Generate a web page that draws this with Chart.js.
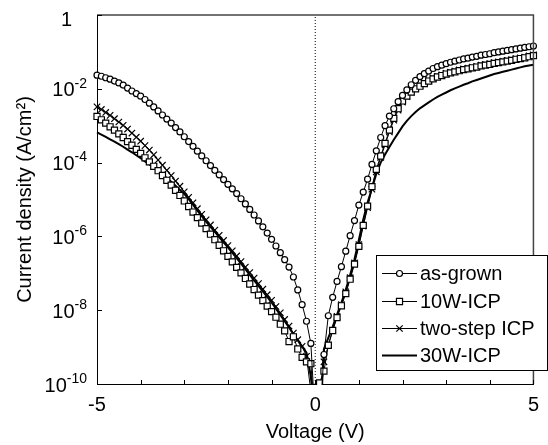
<!DOCTYPE html>
<html>
<head>
<meta charset="utf-8">
<script src="https://cdn.jsdelivr.net/npm/chart.js@4.4.1/dist/chart.umd.min.js"></script>
<style>
  html, body { margin: 0; padding: 0; background: #fff; }
  #wrap { width: 548px; height: 445px; }
</style>
</head>
<body>
<div id="wrap"><canvas id="iv"></canvas></div>
<script>
// bias sweep, V
var voltage = [-5, -4.9, -4.8, -4.7, -4.6, -4.5, -4.4, -4.3, -4.2, -4.1,
  -4, -3.9, -3.8, -3.7, -3.6, -3.5, -3.4, -3.3, -3.2, -3.1,
  -3, -2.9, -2.8, -2.7, -2.6, -2.5, -2.4, -2.3, -2.2, -2.1,
  -2, -1.9, -1.8, -1.7, -1.6, -1.5, -1.4, -1.3, -1.2, -1.1,
  -1, -0.9, -0.8, -0.7, -0.6, -0.5, -0.4, -0.3, -0.2, -0.1,
  0,
  0.1, 0.2, 0.3, 0.4, 0.5, 0.6, 0.7, 0.8, 0.9, 1,
  1.1, 1.2, 1.3, 1.4, 1.5, 1.6, 1.7, 1.8, 1.9, 2,
  2.1, 2.2, 2.3, 2.4, 2.5, 2.6, 2.7, 2.8, 2.9, 3,
  3.1, 3.2, 3.3, 3.4, 3.5, 3.6, 3.7, 3.8, 3.9, 4,
  4.1, 4.2, 4.3, 4.4, 4.5, 4.6, 4.7, 4.8, 4.9, 5];

// log10 of current density (A/cm2), one value per voltage step
// (-11 = below the measurable range near zero bias)
var asGrownLog = [-1.63, -1.66, -1.70, -1.74, -1.79, -1.84, -1.90, -1.98, -2.06, -2.13,
  -2.20, -2.29, -2.39, -2.49, -2.60, -2.71, -2.82, -2.93, -3.05, -3.17,
  -3.30, -3.43, -3.56, -3.69, -3.82, -3.95, -4.08, -4.21, -4.33, -4.46,
  -4.59, -4.71, -4.84, -4.98, -5.12, -5.27, -5.42, -5.58, -5.74, -5.91,
  -6.08, -6.26, -6.44, -6.63, -6.83, -7.10, -7.45, -7.85, -8.30, -8.90,
  -11,
  -11, -9.20, -8.15, -7.65, -7.22, -6.82, -6.40, -5.98, -5.57, -5.15,
  -4.80, -4.45, -4.05, -3.68, -3.32, -3.00, -2.74, -2.54, -2.35, -2.18,
  -2.03, -1.89, -1.77, -1.67, -1.59, -1.52, -1.45, -1.40, -1.36, -1.32,
  -1.28, -1.25, -1.22, -1.19, -1.17, -1.14, -1.12, -1.09, -1.07, -1.05,
  -1.02, -1.00, -0.98, -0.96, -0.94, -0.92, -0.90, -0.88, -0.86, -0.84];

var icp10WLog = [-2.75, -2.84, -2.93, -3.03, -3.12, -3.22, -3.32, -3.43, -3.53, -3.64,
  -3.75, -3.87, -3.98, -4.10, -4.22, -4.35, -4.48, -4.61, -4.75, -4.89,
  -5.04, -5.19, -5.34, -5.49, -5.64, -5.79, -5.94, -6.09, -6.24, -6.39,
  -6.54, -6.69, -6.84, -6.99, -7.14, -7.29, -7.44, -7.59, -7.74, -7.89,
  -8.04, -8.19, -8.38, -8.56, -8.85, -8.72, -9.05, -9.28, -9.40, -9.45,
  -11,
  -9.97, -9.65, -8.95, -8.55, -8.20, -7.88, -7.55, -7.16, -6.75, -6.27,
  -5.70, -5.18, -4.65, -4.18, -3.82, -3.48, -3.12, -2.80, -2.54, -2.33,
  -2.20, -2.09, -2.00, -1.93, -1.86, -1.79, -1.73, -1.68, -1.64, -1.60,
  -1.57, -1.54, -1.51, -1.48, -1.46, -1.43, -1.41, -1.38, -1.36, -1.34,
  -1.31, -1.29, -1.27, -1.25, -1.23, -1.20, -1.18, -1.16, -1.13, -1.10];

var twoStepLog = [-2.49, -2.56, -2.64, -2.72, -2.81, -2.90, -2.99, -3.09, -3.20, -3.31,
  -3.42, -3.54, -3.66, -3.79, -3.93, -4.07, -4.21, -4.35, -4.50, -4.64,
  -4.79, -4.94, -5.09, -5.25, -5.40, -5.55, -5.69, -5.83, -5.97, -6.11,
  -6.25, -6.39, -6.53, -6.68, -6.83, -6.98, -7.13, -7.28, -7.43, -7.58,
  -7.73, -7.90, -8.07, -8.25, -8.43, -8.62, -8.80, -8.98, -9.25, -10.2,
  -11,
  -11, -9.40, -8.95, -8.55, -8.17, -7.85, -7.50, -7.12, -6.72, -6.22,
  -5.72, -5.22, -4.72, -4.25, -3.86, -3.52, -3.17, -2.85, -2.58, -2.36,
  -2.21, -2.09, -1.99, -1.91, -1.84, -1.77, -1.71, -1.66, -1.62, -1.58,
  -1.55, -1.52, -1.49, -1.46, -1.44, -1.41, -1.39, -1.36, -1.34, -1.32,
  -1.29, -1.27, -1.25, -1.23, -1.21, -1.18, -1.16, -1.14, -1.11, -1.08];

var icp30WLog = [-3.18, -3.24, -3.30, -3.37, -3.43, -3.50, -3.57, -3.65, -3.72, -3.80,
  -3.88, -3.97, -4.05, -4.14, -4.23, -4.32, -4.42, -4.52, -4.63, -4.74,
  -4.85, -4.99, -5.14, -5.30, -5.45, -5.60, -5.74, -5.88, -6.02, -6.16,
  -6.30, -6.44, -6.59, -6.74, -6.89, -7.04, -7.19, -7.34, -7.49, -7.64,
  -7.79, -7.96, -8.13, -8.30, -8.47, -8.65, -8.82, -8.98, -9.15, -9.80,
  -11,
  -11, -9.05, -8.75, -8.45, -8.12, -7.80, -7.45, -7.05, -6.62, -6.10,
  -5.55, -5.08, -4.70, -4.30, -4.00, -3.78, -3.58, -3.38, -3.20, -3.02,
  -2.87, -2.74, -2.63, -2.53, -2.45, -2.37, -2.29, -2.22, -2.16, -2.10,
  -2.04, -1.99, -1.94, -1.89, -1.85, -1.80, -1.76, -1.72, -1.68, -1.64,
  -1.60, -1.57, -1.54, -1.51, -1.48, -1.45, -1.42, -1.39, -1.37, -1.35];

var seriesNames = ['as-grown', '10W-ICP', 'two-step ICP', '30W-ICP'];
var yTicks = [1e-10, 1e-8, 1e-6, 1e-4, 1e-2, 1];
var xLabels = [-5, 0, 5];

var FONT = "'Liberation Sans', Arial, sans-serif";

function toPoints(logs) {
  return logs.map(function (l, i) { return { x: voltage[i], y: Math.pow(10, l) }; });
}

function series(name, logs, style) {
  return Object.assign({
    label: name,
    data: toPoints(logs),
    borderColor: '#000',
    backgroundColor: '#fff',
    borderWidth: 1,
    pointBorderColor: '#000',
    pointBackgroundColor: '#fff',
    pointBorderWidth: 1.2,
    tension: 0,
    clip: { left: 6, right: 6, top: 6, bottom: 1 },
    inLegend: true
  }, style);
}

var datasets = [
  series(seriesNames[0], asGrownLog, { pointStyle: 'circle', pointRadius: 3 }),
  series(seriesNames[1], icp10WLog, { pointStyle: 'rect', pointRadius: 4.3 }),
  series(seriesNames[2], twoStepLog, { pointStyle: 'crossRot', pointRadius: 4.5 }),
  series(seriesNames[3], icp30WLog, { pointRadius: 0, borderWidth: 2 }),
  {
    label: 'V = 0',
    data: [{ x: 0, y: yTicks[0] }, { x: 0, y: yTicks[yTicks.length - 1] }],
    borderColor: '#000',
    borderWidth: 1,
    borderDash: [1, 2],
    pointRadius: 0,
    inLegend: false
  }
];

function drawMarker(ctx, style, r, cx, cy) {
  ctx.beginPath();
  if (style === 'circle') {
    ctx.arc(cx, cy, r, 0, Math.PI * 2);
    ctx.fill(); ctx.stroke();
  } else if (style === 'rect') {
    var h = r * Math.SQRT1_2;
    ctx.rect(cx - h, cy - h, 2 * h, 2 * h);
    ctx.fill(); ctx.stroke();
  } else if (style === 'crossRot') {
    var d = r * Math.SQRT1_2;
    ctx.moveTo(cx - d, cy - d); ctx.lineTo(cx + d, cy + d);
    ctx.moveTo(cx - d, cy + d); ctx.lineTo(cx + d, cy - d);
    ctx.stroke();
  }
}

var decorations = {
  id: 'decorations',
  afterDraw: function (chart) {
    var ctx = chart.ctx, a = chart.chartArea;
    var xs = chart.scales.x, ys = chart.scales.y;
    ctx.save();

    // top and right edges of the plot box
    ctx.strokeStyle = '#444';
    ctx.lineWidth = 1.5;
    ctx.beginPath();
    ctx.moveTo(a.left, a.top);
    ctx.lineTo(a.right, a.top);
    ctx.lineTo(a.right, a.bottom);
    ctx.stroke();

    // tick marks point into the plot
    ctx.strokeStyle = '#000';
    ctx.lineWidth = 1;
    ctx.beginPath();
    xs.ticks.forEach(function (t) {
      var px = Math.round(xs.getPixelForValue(t.value)) + 0.5;
      ctx.moveTo(px, a.bottom);
      ctx.lineTo(px, a.bottom - 4);
    });
    yTicks.forEach(function (v) {
      var py = Math.round(ys.getPixelForValue(v)) + 0.5;
      ctx.moveTo(a.left, py);
      ctx.lineTo(a.left + 5, py);
    });
    ctx.stroke();

    // decade labels with raised exponents
    ctx.fillStyle = '#000';
    ctx.textBaseline = 'middle';
    var right = a.left - 10;
    yTicks.forEach(function (v) {
      var py = ys.getPixelForValue(v);
      var e = Math.round(Math.log10(v));
      if (e === 0) {
        ctx.font = '20px ' + FONT;
        ctx.textAlign = 'center';
        ctx.fillText('1', right - 20.5, py + 5.5);
        return;
      }
      ctx.font = '14px ' + FONT;
      ctx.textAlign = 'right';
      var sup = String(e);
      ctx.fillText(sup, right, py - 5);
      var w = ctx.measureText(sup).width;
      ctx.font = '20px ' + FONT;
      ctx.fillText('10', right - w, py + 2);
    });

    // legend box
    var bx = 376.5, by = 255.5, bw = 171, bh = 115;
    ctx.fillStyle = '#fff';
    ctx.fillRect(bx, by, bw, bh);
    ctx.strokeStyle = '#000';
    ctx.lineWidth = 1;
    ctx.strokeRect(bx, by, bw, bh);
    ctx.font = '20px ' + FONT;
    ctx.textAlign = 'left';
    ctx.textBaseline = 'middle';
    chart.data.datasets.filter(function (d) { return d.inLegend; }).forEach(function (d, i) {
      var ly = Math.round(273.3 + i * 27.3) + 0.5;
      ctx.strokeStyle = '#000';
      ctx.lineWidth = d.borderWidth;
      ctx.beginPath();
      ctx.moveTo(382, ly);
      ctx.lineTo(417, ly);
      ctx.stroke();
      if (d.pointRadius > 0) {
        ctx.lineWidth = 1.2;
        ctx.fillStyle = '#fff';
        drawMarker(ctx, d.pointStyle, d.pointRadius, 399.5, ly);
      }
      ctx.fillStyle = '#000';
      ctx.fillText(d.label, 420, ly + 1);
    });

    ctx.restore();
  }
};

new Chart(document.getElementById('iv'), {
  type: 'line',
  data: { datasets: datasets },
  options: {
    responsive: true,
    maintainAspectRatio: false,
    animation: false,
    devicePixelRatio: 1,
    layout: { padding: { top: 15, right: 12, bottom: 0, left: 0 } },
    plugins: { legend: { display: false }, tooltip: { enabled: false } },
    scales: {
      x: {
        type: 'linear',
        min: -5,
        max: 5,
        grid: { display: false, drawTicks: false },
        border: { display: true, color: '#000', width: 1 },
        ticks: {
          stepSize: 1,
          autoSkip: false,
          maxRotation: 0,
          padding: 9,
          color: '#000',
          font: { family: FONT, size: 20 },
          callback: function (v) { return xLabels.indexOf(v) >= 0 ? String(v) : ''; }
        },
        title: {
          display: true,
          text: 'Voltage (V)',
          color: '#000',
          font: { family: FONT, size: 20 },
          padding: { top: 0, bottom: 1 }
        },
        afterFit: function (s) { s.height = 61; }
      },
      y: {
        type: 'logarithmic',
        min: yTicks[0],
        max: yTicks[yTicks.length - 1],
        grid: { display: false, drawTicks: false },
        border: { display: true, color: '#000', width: 1 },
        ticks: { display: false },
        afterBuildTicks: function (s) { s.ticks = yTicks.map(function (v) { return { value: v }; }); },
        title: {
          display: true,
          text: 'Current density (A/cm²)',
          color: '#000',
          font: { family: FONT, size: 20 },
          padding: { top: 13, bottom: 0 }
        },
        afterFit: function (s) { s.width = 97; }
      }
    }
  },
  plugins: [decorations]
});
</script>
</body>
</html>
